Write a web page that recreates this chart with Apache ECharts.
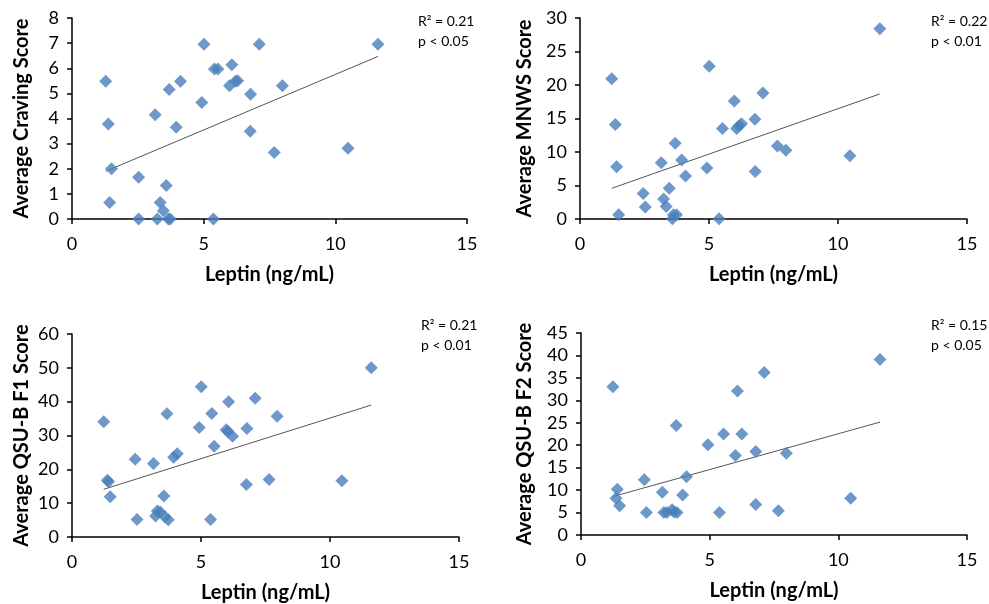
<!DOCTYPE html>
<html>
<head>
<meta charset="utf-8">
<script src="https://cdn.jsdelivr.net/npm/echarts@6/dist/echarts.min.js"></script>
<style>
  html, body { margin: 0; padding: 0; background: #fff; }
  #chart { width: 989px; height: 604px; }
</style>
</head>
<body>
<div id="chart"></div>
<script>
// Leptin (ng/mL) per subject
var leptinCraving = [1.28, 1.38, 1.5, 1.43, 2.53, 2.53, 3.16, 3.24, 3.35, 3.47, 3.58, 3.66, 3.73, 3.69, 3.96, 4.12,
  4.93, 5.01, 5.37, 5.41, 5.54, 5.98, 6.07, 6.21, 6.29, 6.78, 6.77, 7.11, 7.68, 7.99, 10.48, 11.62];
var craving = [5.48, 3.78, 2.0, 0.66, 1.66, 0, 4.15, 0, 0.66, 0.33, 1.33, 0, 0, 5.15, 3.65, 5.48,
  4.64, 6.96, 0, 5.97, 5.97, 5.3, 6.14, 5.48, 5.5, 4.97, 3.49, 6.96, 2.65, 5.3, 2.82, 6.96];

var leptinMnws = [1.23, 1.37, 1.42, 1.5, 2.45, 2.53, 3.15, 3.24, 3.34, 3.46, 3.58, 3.62, 3.74, 3.69, 3.94, 4.09,
  4.92, 5.01, 5.39, 5.52, 5.98, 6.07, 6.17, 6.26, 6.78, 6.79, 7.09, 7.65, 7.98, 10.46, 11.62];
var mnws = [20.95, 14.1, 7.8, 0.65, 3.8, 1.8, 8.4, 3.0, 1.85, 4.6, 0.05, 0.65, 0.65, 11.3, 8.8, 6.4,
  7.6, 22.8, 0.05, 13.5, 17.6, 13.5, 13.9, 14.2, 14.9, 7.1, 18.8, 10.9, 10.25, 9.45, 28.4];

var leptinF1 = [1.23, 1.37, 1.42, 1.48, 2.45, 2.52, 3.16, 3.24, 3.31, 3.42, 3.56, 3.61, 3.73, 3.68, 3.94, 4.08,
  4.93, 5.01, 5.37, 5.42, 5.51, 5.98, 6.07, 6.04, 6.22, 6.78, 6.76, 7.1, 7.64, 7.95, 10.46, 11.6];
var qsuF1 = [34.1, 16.8, 16.3, 11.9, 23.0, 5.2, 21.7, 6.2, 7.7, 7.4, 12.1, 5.9, 5.1, 36.4, 23.6, 24.6,
  32.4, 44.4, 5.2, 36.5, 26.8, 31.7, 40.0, 31.2, 29.8, 32.1, 15.5, 41.0, 17.0, 35.7, 16.6, 50.0];

var leptinF2 = [1.24, 1.36, 1.41, 1.5, 2.46, 2.54, 3.16, 3.22, 3.34, 3.54, 3.62, 3.73, 3.7, 3.95, 4.1,
  4.93, 5.38, 5.54, 6.0, 6.08, 6.25, 6.79, 6.79, 7.12, 7.67, 7.98, 10.48, 11.62];
var qsuF2 = [33.0, 8.2, 10.2, 6.5, 12.3, 5.0, 9.5, 5.0, 5.0, 5.6, 5.1, 5.0, 24.4, 8.9, 13.0,
  20.1, 5.0, 22.5, 17.7, 32.1, 22.5, 6.8, 18.6, 36.2, 5.4, 18.2, 8.2, 39.1];

// trend line end points
var trendCraving = [[1.28, 1.9], [11.62, 6.47]];
var trendMnws = [[1.23, 4.58], [11.62, 18.66]];
var trendF1 = [[1.23, 14.1], [11.6, 39.0]];
var trendF2 = [[1.24, 8.56], [11.62, 25.15]];

var yTitles = ["Average Craving Score", "Average MNWS Score", "Average QSU-B F1 Score", "Average QSU-B F2 Score"];
var yMax = [8, 30, 60, 45];
var yStep = [1, 5, 10, 5];
var xTicks = [0, 5, 10, 15];
var stats = [["R\u00b2 = 0.21", "p < 0.05"], ["R\u00b2 = 0.22", "p < 0.01"],
  ["R\u00b2 = 0.21", "p < 0.01"], ["R\u00b2 = 0.15", "p < 0.05"]];

var FONT = "Lato, 'Open Sans', sans-serif";

var grids = [
  {left: 72, top: 18, width: 395, height: 201},
  {left: 580, top: 18, width: 387, height: 201},
  {left: 72, top: 334, width: 387, height: 203},
  {left: 581, top: 333, width: 386, height: 202}
];
var yNameGap = [40, 45, 40, 46];
var statPos = [[418, 11], [931, 11], [421, 315], [931, 315]];

function axisCommon() {
  return {
    axisLine: {show: true, lineStyle: {color: "#000", width: 1.5}},
    axisTick: {show: true, length: 5, inside: false, lineStyle: {color: "#000", width: 1.5}},
    splitLine: {show: false},
    axisLabel: {color: "#000", fontSize: 18, fontFamily: FONT},
    nameTextStyle: {color: "#000", fontSize: 20, fontWeight: "bold", fontFamily: FONT}
  };
}

function zip(xs, ys) {
  return xs.map(function(x, i) {
    return [x, ys[i]];
  });
}

var scatterData = [
  zip(leptinCraving, craving),
  zip(leptinMnws, mnws),
  zip(leptinF1, qsuF1),
  zip(leptinF2, qsuF2)
];
var trends = [trendCraving, trendMnws, trendF1, trendF2];

var xAxes = [], yAxes = [], series = [], graphics = [];

grids.forEach(function(g, i) {
  var xa = axisCommon();
  xa.gridIndex = i;
  xa.type = "value";
  xa.min = xTicks[0];
  xa.max = xTicks[xTicks.length - 1];
  xa.interval = 5;
  xa.name = "Leptin (ng/mL)";
  xa.nameLocation = "middle";
  xa.nameGap = 46;
  xa.axisLabel.margin = 16;
  xAxes.push(xa);

  var ya = axisCommon();
  ya.gridIndex = i;
  ya.type = "value";
  ya.min = 0;
  ya.max = yMax[i];
  ya.interval = yStep[i];
  ya.name = yTitles[i];
  ya.nameLocation = "middle";
  ya.nameGap = yNameGap[i];
  ya.axisLabel.margin = 13;
  yAxes.push(ya);

  series.push({
    type: "scatter",
    xAxisIndex: i,
    yAxisIndex: i,
    symbol: "diamond",
    symbolSize: 13,
    itemStyle: {color: "#4a7ebb"},
    data: scatterData[i],
    z: 3
  });
  series.push({
    type: "line",
    xAxisIndex: i,
    yAxisIndex: i,
    symbol: "none",
    lineStyle: {color: "#555", width: 1},
    data: trends[i],
    z: 2
  });

  graphics.push({
    type: "text",
    left: statPos[i][0],
    top: statPos[i][1],
    style: {
      text: stats[i].join("\n"),
      font: "14px " + FONT,
      fill: "#000",
      lineHeight: 20
    }
  });
});

var myChart = echarts.init(document.getElementById("chart"), null, {renderer: "canvas"});
myChart.setOption({
  animation: false,
  backgroundColor: "#fff",
  grid: grids,
  xAxis: xAxes,
  yAxis: yAxes,
  series: series,
  graphic: graphics
});
</script>
</body>
</html>
